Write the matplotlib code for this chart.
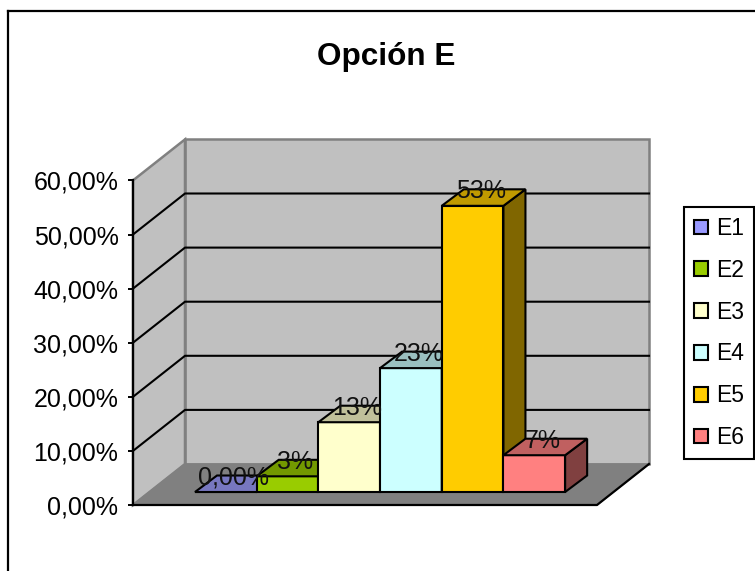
import matplotlib
matplotlib.use("Agg")
import matplotlib.pyplot as plt
from matplotlib.patches import Patch

categories = ["E1", "E2", "E3", "E4", "E5", "E6"]
values = [0.0, 2.9, 12.9, 22.9, 52.9, 6.8]
value_labels = ["0,00%", "3%", "13%", "23%", "53%", "7%"]
front_colors = ["#9999FF", "#99CC00", "#FFFFCC", "#CCFFFF", "#FFCC00", "#FF8080"]
top_colors = ["#7777C0", "#739900", "#C0C09A", "#9AC0C0", "#C09A00", "#C06060"]
side_colors = ["#4D4D80", "#4D6600", "#80806A", "#6A8080", "#806600", "#804040"]
y_ticks = [0, 10, 20, 30, 40, 50, 60]
y_tick_labels = ["0,00%", "10,00%", "20,00%", "30,00%", "40,00%", "50,00%", "60,00%"]

W, H = 755, 571
PX_X = 62.0   # pixels per bar width
PX_Y = 5.41   # pixels per percent
X0, Y0 = 133, 505  # pixel position of the axis origin

# depth of the floor and of the bars, in data units
FLOOR_DX, FLOOR_DY = 52 / PX_X, 41 / PX_Y
BAR_DX, BAR_DY = 22 / PX_X, 16.5 / PX_Y
BAR_BASE = 13 / PX_Y
BAR_W = 0.995
FLOOR_W = 464 / PX_X
TOP = 60
LW = 1.5


def main():
    plt.rcParams["font.family"] = ["Liberation Sans", "DejaVu Sans"]
    fig = plt.figure(figsize=(W / 100, H / 100), dpi=100)
    ax = fig.add_axes([0, 0, 1, 1])
    ax.set_xlim(-X0 / PX_X, (W - X0) / PX_X)
    ax.set_ylim(-(H - Y0) / PX_Y, Y0 / PX_Y)
    ax.patch.set_visible(False)

    # outer frame, right and bottom fall outside the picture
    fig.add_artist(plt.Line2D([7.5 / W, 7.5 / W], [0, 1 - 11 / H], color="black", lw=1.6))
    fig.add_artist(plt.Line2D([7.5 / W, 1], [1 - 11 / H, 1 - 11 / H], color="black", lw=1.6))

    # walls and floor
    bx, by = FLOOR_DX, FLOOR_DY
    ax.fill([bx, bx + FLOOR_W, bx + FLOOR_W, bx], [by, by, by + TOP, by + TOP],
            fc="#C0C0C0", ec="#808080", lw=1.8, zorder=1)
    ax.fill([0, bx, bx, 0], [0, by, by + TOP, TOP],
            fc="#C0C0C0", ec="#808080", lw=1.8, zorder=1)
    ax.fill([0, FLOOR_W, FLOOR_W + bx, bx], [0, 0, by, by],
            fc="#808080", ec="#808080", lw=1, zorder=1)
    ax.plot([0, FLOOR_W, FLOOR_W + bx], [0, 0, by], color="black", lw=1.6, zorder=2)

    # gridlines on both walls
    for t in y_ticks[1:-1]:
        ax.plot([0, bx, bx + FLOOR_W], [t, t + by, t + by], color="black", lw=LW, zorder=2)

    # bars, left to right so later ones cover earlier sides
    for i, v in enumerate(values):
        x = 1 + i * BAR_W
        base = BAR_BASE
        z = 3 + i
        ax.bar(x, v, width=BAR_W, bottom=base, align="edge", color=front_colors[i],
               edgecolor="black", lw=LW, zorder=z)
        ax.fill([x + BAR_W, x + BAR_W + BAR_DX, x + BAR_W + BAR_DX, x + BAR_W],
                [base, base + BAR_DY, base + v + BAR_DY, base + v],
                fc=side_colors[i], ec="black", lw=LW, zorder=z)
        ax.fill([x, x + BAR_W, x + BAR_W + BAR_DX, x + BAR_DX],
                [base + v, base + v, base + v + BAR_DY, base + v + BAR_DY],
                fc=top_colors[i], ec="black", lw=LW, zorder=z)

    for i, v in enumerate(values):
        x = 1 + i * BAR_W + BAR_W / 2 + 8 / PX_X
        ax.text(x, BAR_BASE + v + 14.5 / PX_Y, value_labels[i], ha="center", va="center",
                fontsize=18, color="#111111", zorder=20)

    # value axis
    for side in ["top", "right", "bottom"]:
        ax.spines[side].set_visible(False)
    ax.spines["left"].set_position(("data", 0))
    ax.spines["left"].set_bounds(0, TOP)
    ax.spines["left"].set_linewidth(1.6)
    ax.spines["left"].set_zorder(15)
    ax.set_xticks([])
    ax.set_yticks(y_ticks)
    ax.set_yticklabels(y_tick_labels)
    ax.tick_params(axis="y", length=3.5, width=1.4, pad=7, labelsize=18, direction="out")

    fig.text(386 / W, 1 - 57 / H, "Opción E", ha="center", va="center",
             fontsize=22.7, fontweight="bold")

    handles = [Patch(facecolor=c, edgecolor="black", lw=LW) for c in front_colors]
    leg = ax.legend(handles, categories, loc="upper left",
                    bbox_to_anchor=(684 / W, 1 - 207 / H), bbox_transform=fig.transFigure,
                    fontsize=16.5, frameon=True, fancybox=False, framealpha=1, edgecolor="black",
                    handlelength=0.62, handleheight=0.62, handletextpad=0.32, labelspacing=0.82,
                    borderpad=0.44, borderaxespad=0)
    leg.get_frame().set_linewidth(1.5)
    leg.set_zorder(30)

    fig.savefig("out.png", dpi=100)


if __name__ == "__main__":
    main()
